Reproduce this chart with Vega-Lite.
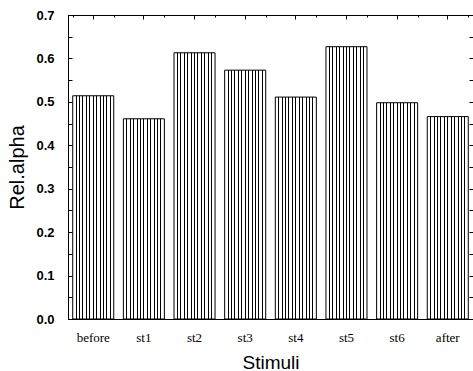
{
  "$schema": "https://vega.github.io/schema/vega-lite/v6.json",
  "autosize": "none",
  "width": 405,
  "height": 304,
  "padding": {"left": 68, "top": 15, "right": 0, "bottom": 52},
  "background": "white",
  "data": {
    "values": [
      {"stimulus": "before", "alpha": 0.514},
      {"stimulus": "st1", "alpha": 0.461},
      {"stimulus": "st2", "alpha": 0.613},
      {"stimulus": "st3", "alpha": 0.573},
      {"stimulus": "st4", "alpha": 0.511},
      {"stimulus": "st5", "alpha": 0.627},
      {"stimulus": "st6", "alpha": 0.498},
      {"stimulus": "after", "alpha": 0.466}
    ]
  },
  "config": {
    "view": {"stroke": "black", "strokeWidth": 1},
    "axis": {"grid": false, "domainColor": "black", "tickColor": "black", "labelColor": "black", "titleColor": "black"}
  },
  "layer": [
    {
      "mark": {
        "type": "bar",
        "stroke": "black",
        "strokeWidth": 1,
        "fill": {
          "gradient": "linear", "x1": 0, "x2": 1, "y1": 0, "y2": 0,
          "stops": [
            {"offset": 0, "color": "white"},
            {"offset": 0.071, "color": "white"}, {"offset": 0.071, "color": "black"}, {"offset": 0.095, "color": "black"}, {"offset": 0.095, "color": "white"},
            {"offset": 0.155, "color": "white"}, {"offset": 0.155, "color": "black"}, {"offset": 0.179, "color": "black"}, {"offset": 0.179, "color": "white"},
            {"offset": 0.238, "color": "white"}, {"offset": 0.238, "color": "black"}, {"offset": 0.262, "color": "black"}, {"offset": 0.262, "color": "white"},
            {"offset": 0.321, "color": "white"}, {"offset": 0.321, "color": "black"}, {"offset": 0.345, "color": "black"}, {"offset": 0.345, "color": "white"},
            {"offset": 0.405, "color": "white"}, {"offset": 0.405, "color": "black"}, {"offset": 0.429, "color": "black"}, {"offset": 0.429, "color": "white"},
            {"offset": 0.488, "color": "white"}, {"offset": 0.488, "color": "black"}, {"offset": 0.512, "color": "black"}, {"offset": 0.512, "color": "white"},
            {"offset": 0.571, "color": "white"}, {"offset": 0.571, "color": "black"}, {"offset": 0.595, "color": "black"}, {"offset": 0.595, "color": "white"},
            {"offset": 0.655, "color": "white"}, {"offset": 0.655, "color": "black"}, {"offset": 0.679, "color": "black"}, {"offset": 0.679, "color": "white"},
            {"offset": 0.738, "color": "white"}, {"offset": 0.738, "color": "black"}, {"offset": 0.762, "color": "black"}, {"offset": 0.762, "color": "white"},
            {"offset": 0.821, "color": "white"}, {"offset": 0.821, "color": "black"}, {"offset": 0.845, "color": "black"}, {"offset": 0.845, "color": "white"},
            {"offset": 0.905, "color": "white"}, {"offset": 0.905, "color": "black"}, {"offset": 0.929, "color": "black"}, {"offset": 0.929, "color": "white"},
            {"offset": 1, "color": "white"}
          ]
        }
      },
      "encoding": {
        "x": {
          "field": "stimulus", "type": "nominal", "sort": null,
          "scale": {"paddingInner": 0.19, "paddingOuter": 0.093},
          "axis": {
            "orient": "bottom", "title": "Stimuli", "ticks": false, "labelAngle": 0,
            "labelFont": "Liberation Serif", "labelFontSize": 13, "labelPadding": 12,
            "titleFont": "Liberation Sans", "titleFontSize": 19, "titleFontWeight": "normal", "titlePadding": 9
          }
        },
        "y": {
          "field": "alpha", "type": "quantitative",
          "scale": {"domain": [0, 0.7], "nice": false, "zero": true},
          "axis": {
            "orient": "left", "title": "Rel.alpha",
            "values": [0, 0.05, 0.1, 0.15, 0.2, 0.25, 0.3, 0.35, 0.4, 0.45, 0.5, 0.55, 0.6, 0.65, 0.7],
            "labelExpr": "abs(round(datum.value * 100) % 10) < 1 ? format(datum.value, '.1f') : ''",
            "tickSize": -4,
            "labelFont": "Liberation Sans", "labelFontSize": 13, "labelFontWeight": "bold", "labelPadding": 18,
            "titleFont": "Liberation Sans", "titleFontSize": 20, "titleFontWeight": "normal", "titlePadding": 8
          }
        }
      }
    },
    {
      "mark": {"type": "tick", "opacity": 0},
      "encoding": {
        "x": {
          "field": "stimulus", "type": "nominal", "sort": null,
          "axis": {"orient": "top", "title": null, "labels": false, "tickSize": -4, "domain": true}
        },
        "y": {
          "field": "alpha", "type": "quantitative",
          "axis": {
            "orient": "right", "title": null, "labels": false, "tickSize": -4,
            "values": [0, 0.05, 0.1, 0.15, 0.2, 0.25, 0.3, 0.35, 0.4, 0.45, 0.5, 0.55, 0.6, 0.65, 0.7]
          }
        }
      }
    },
    {
      "mark": {"type": "tick", "opacity": 0},
      "encoding": {
        "x": {
          "field": "stimulus", "type": "nominal", "sort": null,
          "axis": {"orient": "top", "title": null, "labels": false, "tickSize": -2, "tickBand": "extent", "domain": false}
        },
        "y": {"field": "alpha", "type": "quantitative", "axis": null}
      }
    }
  ],
  "resolve": {"axis": {"x": "independent", "y": "independent"}}
}
